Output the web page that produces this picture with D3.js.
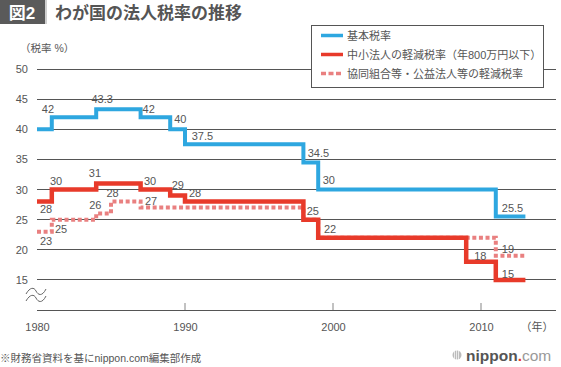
<!DOCTYPE html>
<html>
<head>
<meta charset="utf-8">
<script src="https://cdn.jsdelivr.net/npm/d3@7"></script>
<style>
html,body{margin:0;padding:0;background:#fff;}
svg{display:block;font-family:"Liberation Sans","Noto Sans CJK JP",sans-serif;}
</style>
</head>
<body>
<svg id="chart" width="561" height="367"></svg>
<script>
// ---- data ----
const basicYears = [1980, 1981, 1984, 1987, 1989, 1990, 1998, 1999, 2011, 2013];
const basicRates = [40, 42, 43.3, 42, 40, 37.5, 34.5, 30, 25.5, 25.5];
const smeYears = [1980, 1981, 1984, 1987, 1989, 1990, 1998, 1999, 2009, 2011, 2013];
const smeRates = [28, 30, 31, 30, 29, 28, 25, 22, 18, 15, 15];
const coopYears = [1980, 1981, 1984, 1985, 1987, 1998, 1999, 2011, 2013];
const coopRates = [23, 25, 26, 28, 27, 25, 22, 19, 19];
const yTicks = [15, 20, 25, 30, 35, 40, 45, 50];
const xTicks = [1980, 1990, 2000, 2010];
const seriesNames = ["基本税率", "中小法人の軽減税率（年800万円以下）", "協同組合等・公益法人等の軽減税率"];
const titleTag = "図2";
const titleText = "わが国の法人税率の推移";
const yUnit = "（税率 %）";
const xUnit = "（年）";
const sourceText = "※財務省資料を基にnippon.com編集部作成";

// ---- layout: which points get a value label, with offsets ----
const basicLabelIdx = [1, 2, 3, 4, 5, 6, 7, 8];
const basicLabelOff = [[-10, -4], [-4.7, -6.4], [2, -4.5], [4, -6.5], [6.7, -4.6], [4.3, -5.6], [4.5, -5.5], [6, -4.3]];
const smeLabelIdx = [0, 1, 2, 3, 4, 5, 6, 7, 8, 9];
const smeLabelOff = [[3, 11.7], [-1.8, -4.5], [-7.4, -6.5], [3.4, -4.5], [1.5, -6.2], [4, -5], [3.3, -4.6], [5.8, -4.4], [8, -1.8], [6, -1.6]];
const coopLabelIdx = [0, 1, 2, 3, 4, 7];
const coopLabelOff = [[3, 13.3], [3.2, 13.7], [-7, -4.6], [-4.5, -5], [4.4, -2.6], [6, -3]];

const colors = {basic: "#2ea7e0", sme: "#e83a2a", coop: "#e98080", text: "#555", grid: "#555"};

const svg = d3.select("#chart");
const x = d3.scaleLinear().domain([1980, 2015]).range([37, 555]);
const y = d3.scaleLinear().domain([10, 50]).range([310, 69]);

// title
svg.append("rect").attr("x", 0).attr("y", 0).attr("width", 45).attr("height", 24).attr("fill", "#5a5a5a");
svg.append("rect").attr("x", 45).attr("y", 0).attr("width", 2).attr("height", 24).attr("fill", "#cfcfcf");
svg.append("text").attr("x", 22).attr("y", 18.5).attr("text-anchor", "middle")
  .attr("font-size", 17).attr("font-weight", "bold").attr("fill", "#fff").text(titleTag);
svg.append("text").attr("x", 55).attr("y", 19).attr("font-size", 17).attr("font-weight", "bold")
  .attr("fill", "#555").text(titleText);

svg.append("text").attr("x", 20).attr("y", 52).attr("font-size", 10.5).attr("fill", colors.text).text(yUnit);

// gridlines
const gy = svg.append("g");
yTicks.forEach(t => {
  gy.append("line").attr("x1", 37).attr("x2", 556).attr("y1", y(t)).attr("y2", y(t))
    .attr("stroke", colors.grid).attr("stroke-width", 1).attr("shape-rendering", "crispEdges");
});
// y axis labels
const yAxis = d3.axisLeft(y).tickValues(yTicks).tickSize(0).tickPadding(0);
const gya = svg.append("g").attr("transform", "translate(28,0)").call(yAxis);
gya.select(".domain").remove();
gya.selectAll("text").attr("font-size", 11).attr("fill", colors.text)
  .attr("font-family", "Liberation Sans, sans-serif");

// x axis
const xAxis = d3.axisBottom(x).tickValues(xTicks).tickFormat(d3.format("d")).tickSize(0).tickPadding(0);
const gxa = svg.append("g").attr("transform", "translate(0,310)").call(xAxis);
gxa.select(".domain").remove();
gxa.selectAll("text").attr("font-size", 11).attr("fill", colors.text).attr("dy", 0).attr("y", 21)
  .attr("font-family", "Liberation Sans, sans-serif");
svg.append("line").attr("x1", 37).attr("x2", 556).attr("y1", 310).attr("y2", 310)
  .attr("stroke", colors.grid).attr("stroke-width", 1).attr("shape-rendering", "crispEdges");
xTicks.slice(1).forEach(t => {
  svg.append("line").attr("x1", x(t)).attr("x2", x(t)).attr("y1", 303).attr("y2", 310)
    .attr("stroke", "#999").attr("stroke-width", 1.2);
});
svg.append("text").attr("x", 537).attr("y", 331).attr("text-anchor", "middle").attr("font-size", 11)
  .attr("fill", colors.text).text(xUnit);

// break mark
const br = svg.append("g").attr("fill", "none").attr("stroke", "#666").attr("stroke-width", 1);
[0, 7].forEach(o => {
  br.append("path").attr("d", `M26,${294 + o} C30,${287 + o} 34,${287 + o} 36,${291 + o} S42,${297 + o} 46,${289 + o}`);
});

// lines
const mk = (ys, vs) => ys.map((yr, i) => [yr, vs[i]]);
const line = d3.line().x(d => x(d[0])).y(d => y(d[1])).curve(d3.curveStepAfter);
const coop = mk(coopYears, coopRates), sme = mk(smeYears, smeRates), basic = mk(basicYears, basicRates);

svg.append("path").datum(coop).attr("d", line).attr("fill", "none").attr("stroke", colors.coop)
  .attr("stroke-width", 4).attr("stroke-dasharray", "4,2.6");
svg.append("path").datum(sme).attr("d", line).attr("fill", "none").attr("stroke", colors.sme)
  .attr("stroke-width", 4.5);
svg.append("path").datum(basic).attr("d", line).attr("fill", "none").attr("stroke", colors.basic)
  .attr("stroke-width", 4);

// value labels
const fmt = v => (Number.isInteger(v) ? d3.format("d")(v) : d3.format(".1f")(v));
function labels(data, idx, off) {
  idx.forEach((k, i) => {
    const d = data[k];
    svg.append("text").attr("x", x(d[0]) + off[i][0]).attr("y", y(d[1]) + off[i][1])
      .attr("font-size", 11).attr("fill", colors.text)
      .attr("font-family", "Liberation Sans, sans-serif").text(fmt(d[1]));
  });
}
labels(basic, basicLabelIdx, basicLabelOff);
labels(sme, smeLabelIdx, smeLabelOff);
labels(coop, coopLabelIdx, coopLabelOff);

// legend
svg.append("rect").attr("x", 311.5).attr("y", 25.5).attr("width", 232).attr("height", 62)
  .attr("fill", "#fff").attr("stroke", colors.grid).attr("stroke-width", 1);
const legColors = [colors.basic, colors.sme, colors.coop];
seriesNames.forEach((n, i) => {
  const ly = 35.5 + i * 19;
  svg.append("line").attr("x1", 321).attr("x2", 343).attr("y1", ly).attr("y2", ly)
    .attr("stroke", legColors[i]).attr("stroke-width", 3.5)
    .attr("stroke-dasharray", i === 2 ? "5,2.5" : null);
  svg.append("text").attr("x", 347).attr("y", ly + 4).attr("font-size", 11).attr("fill", colors.text).text(n);
});

// source
svg.append("text").attr("x", 0).attr("y", 362).attr("font-size", 10.5).attr("fill", colors.text).text(sourceText);

// logo
const lg = svg.append("g");
lg.append("circle").attr("cx", 457).attr("cy", 355).attr("r", 4.5).attr("fill", "#bbb");
[454.5, 456.5, 458.5].forEach(xx => lg.append("line").attr("x1", xx).attr("x2", xx).attr("y1", 350).attr("y2", 360)
  .attr("stroke", "#fff").attr("stroke-width", 0.7));
const lt = lg.append("text").attr("x", 466).attr("y", 361).attr("font-size", 15.5)
  .attr("font-family", "Liberation Sans, sans-serif");
lt.append("tspan").attr("font-weight", "bold").attr("fill", "#555").text("nippon");
lt.append("tspan").attr("font-weight", "bold").attr("fill", "#e83a2a").text(".");
lt.append("tspan").attr("fill", "#999").text("com");
</script>
</body>
</html>
